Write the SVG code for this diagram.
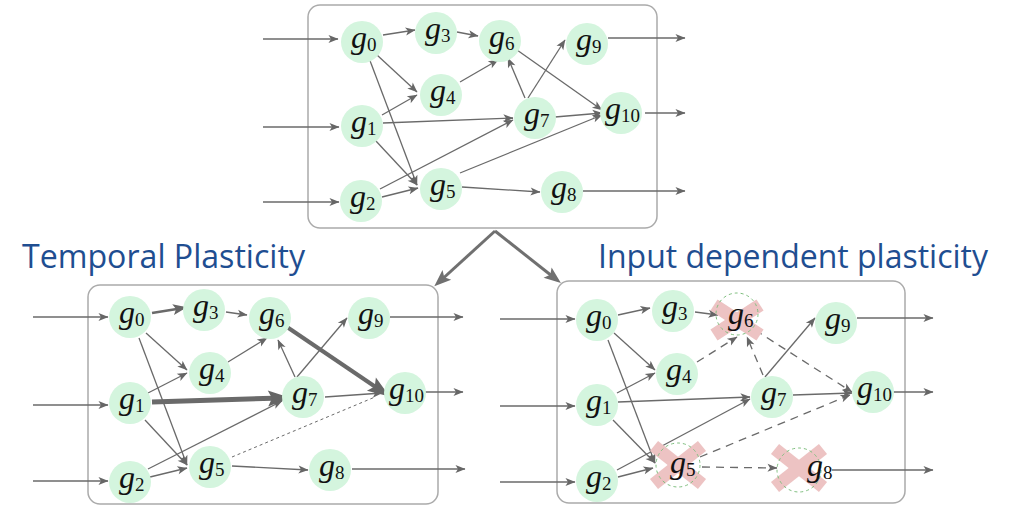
<svg xmlns="http://www.w3.org/2000/svg" width="1025" height="507" viewBox="0 0 1025 507">
<defs>
<marker id="a" markerUnits="userSpaceOnUse" markerWidth="11" markerHeight="9" refX="9.5" refY="4" orient="auto" overflow="visible"><path d="M0,0 L10,4 L0,8 L2.5,4 z" fill="#666"/></marker>
<marker id="am" markerUnits="userSpaceOnUse" markerWidth="15" markerHeight="12" refX="10" refY="5.5" orient="auto" overflow="visible"><path d="M0,0 L14,5.5 L0,11 L3,5.5 z" fill="#666"/></marker>
<marker id="al" markerUnits="userSpaceOnUse" markerWidth="23" markerHeight="17" refX="14" refY="8" orient="auto" overflow="visible"><path d="M0,0 L22,8 L0,16 L4,8 z" fill="#666"/></marker>
<marker id="ab" markerUnits="userSpaceOnUse" markerWidth="18" markerHeight="14" refX="12" refY="6.5" orient="auto" overflow="visible"><path d="M0,0 L17,6.5 L0,13 L3.5,6.5 z" fill="#707070"/></marker>
<style>
.box{fill:none;stroke:#ababab;stroke-width:1.5}
.e{fill:none;stroke:#6a6a6a;stroke-width:1.3;marker-end:url(#a)}
.d{stroke-dasharray:8 6}
.dot{fill:none;stroke:#6a6a6a;stroke-width:1;stroke-dasharray:3 3}
.n circle{fill:#d4f5de}
.x circle{fill:none;stroke:#7fbf7f;stroke-width:1;stroke-dasharray:3 3}
.x line{stroke:#edc3c3;stroke-width:13}
.lb{font-family:"Liberation Serif",serif;font-style:italic;font-size:32px;fill:#111}
.sb{font-style:normal;font-size:19px}
.title{font-family:"Open Sans","Noto Sans",sans-serif;font-size:33px;fill:#1f4e91}
.big{fill:none;stroke:#707070;stroke-width:3;marker-end:url(#ab)}
</style>
</defs>
<rect width="1025" height="507" fill="#fff"/>
<rect class="box" x="308" y="5" width="349" height="223" rx="12"/>
<rect class="box" x="88" y="285" width="350" height="219" rx="12"/>
<rect class="box" x="557" y="281" width="348" height="222" rx="12"/>
<text class="title" x="22" y="268" textLength="283" lengthAdjust="spacingAndGlyphs">Temporal Plasticity</text>
<text class="title" x="598" y="268" textLength="390" lengthAdjust="spacingAndGlyphs">Input dependent plasticity</text>
<g id="connectors">
<path class="big" d="M495,231 L438,283"/>
<path class="big" d="M495,231 L557,280"/>
<path class="e" d="M263,39 H338"/><path class="e" d="M263,127 H339"/><path class="e" d="M263,202 H339"/>
<path class="e" d="M383,35 L415,30"/><path class="e" d="M457,32 L478,36"/><path class="e" d="M377,55 L417,92"/>
<path class="e" d="M369,58 L417,185"/><path class="e" d="M382,115 L417,95"/><path class="e" d="M383,123 L513,118"/>
<path class="e" d="M375,140 L417,185"/><path class="e" d="M380,189 L513,120"/><path class="e" d="M382,197 L418,188"/>
<path class="e" d="M460,82 L498,60"/><path class="e" d="M525,98 L508,58"/><path class="e" d="M528,98 L565,40"/>
<path class="e" d="M517,50 L602,110"/><path class="e" d="M555,117 L602,113"/><path class="e" d="M460,173 L602,115"/>
<path class="e" d="M462,187 L540,192"/>
<path class="e" d="M608,38 H685"/><path class="e" d="M645,113 H685"/><path class="e" d="M583,191 H685"/>
<path class="e" d="M33,317 H108"/><path class="e" d="M33,405 H108"/><path class="e" d="M33,481 H108"/>
<path class="e" d="M152,313 L183,308" style="stroke-width:2.6;marker-end:url(#am)"/>
<path class="e" d="M226,312 L247,315"/><path class="e" d="M146,333 L187,370"/><path class="e" d="M139,338 L187,465"/>
<path class="e" d="M148,393 L187,373"/>
<path class="e" d="M152,402 L282,398" style="stroke-width:5;marker-end:url(#al)"/>
<path class="e" d="M145,420 L187,465"/><path class="e" d="M148,469 L282,401"/><path class="e" d="M150,477 L187,468"/>
<path class="e" d="M228,362 L267,338"/><path class="e" d="M295,377 L278,340"/><path class="e" d="M297,377 L347,318"/>
<path class="e" d="M287,327 L383,392" style="stroke-width:4;marker-end:url(#al)"/>
<path class="e" d="M325,397 L382,393"/>
<path class="dot" d="M232,457 L375,397"/>
<path class="e" d="M232,466 L308,470"/>
<path class="e" d="M390,317 H463"/><path class="e" d="M425,392 H463"/><path class="e" d="M352,469 H465"/>
<path class="e" d="M500,319 H575"/><path class="e" d="M500,406 H575"/><path class="e" d="M500,482 H575"/>
<path class="e" d="M618,315 L650,308"/><path class="e" d="M695,312 L718,315"/><path class="e" d="M614,333 L655,370"/>
<path class="e" d="M608,340 L655,463"/><path class="e" d="M617,393 L655,373"/><path class="e" d="M618,402 L750,397"/>
<path class="e" d="M613,420 L655,463"/><path class="e" d="M617,470 L750,399"/><path class="e" d="M618,477 L653,468"/>
<path class="e d" d="M697,362 L737,337"/><path class="e d" d="M763,375 L747,337"/><path class="e" d="M765,377 L815,318"/>
<path class="e d" d="M755,330 L852,392"/><path class="e" d="M793,395 L852,393"/><path class="e d" d="M700,457 L850,395"/>
<path class="e d" d="M702,467 L777,468"/>
<path class="e" d="M857,318 H933"/><path class="e" d="M893,392 H933"/><path class="e" d="M832,470 H933"/>
</g>
<g id="t-g0" class="n"><circle cx="362" cy="42" r="21"/><text class="lb" x="351" y="48">g<tspan class="sb" dy="3">0</tspan></text></g>
<g id="t-g1" class="n"><circle cx="362" cy="126" r="21"/><text class="lb" x="351" y="132">g<tspan class="sb" dy="3">1</tspan></text></g>
<g id="t-g2" class="n"><circle cx="361" cy="201" r="21"/><text class="lb" x="350" y="207">g<tspan class="sb" dy="3">2</tspan></text></g>
<g id="t-g3" class="n"><circle cx="436" cy="33" r="21"/><text class="lb" x="425" y="39">g<tspan class="sb" dy="3">3</tspan></text></g>
<g id="t-g4" class="n"><circle cx="441" cy="95" r="21"/><text class="lb" x="430" y="101">g<tspan class="sb" dy="3">4</tspan></text></g>
<g id="t-g5" class="n"><circle cx="441" cy="189" r="21"/><text class="lb" x="430" y="195">g<tspan class="sb" dy="3">5</tspan></text></g>
<g id="t-g6" class="n"><circle cx="500" cy="41" r="21"/><text class="lb" x="489" y="47">g<tspan class="sb" dy="3">6</tspan></text></g>
<g id="t-g7" class="n"><circle cx="535" cy="118" r="21"/><text class="lb" x="524" y="124">g<tspan class="sb" dy="3">7</tspan></text></g>
<g id="t-g8" class="n"><circle cx="562" cy="192" r="21"/><text class="lb" x="551" y="198">g<tspan class="sb" dy="3">8</tspan></text></g>
<g id="t-g9" class="n"><circle cx="587" cy="44" r="21"/><text class="lb" x="576" y="50">g<tspan class="sb" dy="3">9</tspan></text></g>
<g id="t-g10" class="n"><circle cx="621" cy="113" r="21"/><text class="lb" x="605" y="119">g<tspan class="sb" dy="3">10</tspan></text></g>
<g id="l-g0" class="n"><circle cx="130" cy="317" r="21"/><text class="lb" x="119" y="323">g<tspan class="sb" dy="3">0</tspan></text></g>
<g id="l-g1" class="n"><circle cx="130" cy="403" r="21"/><text class="lb" x="119" y="409">g<tspan class="sb" dy="3">1</tspan></text></g>
<g id="l-g2" class="n"><circle cx="130" cy="482" r="21"/><text class="lb" x="119" y="488">g<tspan class="sb" dy="3">2</tspan></text></g>
<g id="l-g3" class="n"><circle cx="204" cy="310" r="21"/><text class="lb" x="193" y="316">g<tspan class="sb" dy="3">3</tspan></text></g>
<g id="l-g4" class="n"><circle cx="210" cy="373" r="21"/><text class="lb" x="199" y="379">g<tspan class="sb" dy="3">4</tspan></text></g>
<g id="l-g5" class="n"><circle cx="210" cy="467" r="21"/><text class="lb" x="199" y="473">g<tspan class="sb" dy="3">5</tspan></text></g>
<g id="l-g6" class="n"><circle cx="270" cy="318" r="21"/><text class="lb" x="259" y="324">g<tspan class="sb" dy="3">6</tspan></text></g>
<g id="l-g7" class="n"><circle cx="303" cy="397" r="21"/><text class="lb" x="292" y="403">g<tspan class="sb" dy="3">7</tspan></text></g>
<g id="l-g8" class="n"><circle cx="330" cy="470" r="21"/><text class="lb" x="319" y="476">g<tspan class="sb" dy="3">8</tspan></text></g>
<g id="l-g9" class="n"><circle cx="369" cy="318" r="21"/><text class="lb" x="358" y="324">g<tspan class="sb" dy="3">9</tspan></text></g>
<g id="l-g10" class="n"><circle cx="405" cy="393" r="21"/><text class="lb" x="389" y="399">g<tspan class="sb" dy="3">10</tspan></text></g>
<g id="r-g0" class="n"><circle cx="597" cy="320" r="21"/><text class="lb" x="586" y="326">g<tspan class="sb" dy="3">0</tspan></text></g>
<g id="r-g1" class="n"><circle cx="597" cy="405" r="21"/><text class="lb" x="586" y="411">g<tspan class="sb" dy="3">1</tspan></text></g>
<g id="r-g2" class="n"><circle cx="597" cy="481" r="21"/><text class="lb" x="586" y="487">g<tspan class="sb" dy="3">2</tspan></text></g>
<g id="r-g3" class="n"><circle cx="673" cy="311" r="21"/><text class="lb" x="662" y="317">g<tspan class="sb" dy="3">3</tspan></text></g>
<g id="r-g4" class="n"><circle cx="677" cy="374" r="21"/><text class="lb" x="666" y="380">g<tspan class="sb" dy="3">4</tspan></text></g>
<g id="r-g5" class="x"><line x1="654" y1="446" x2="702" y2="484"/><line x1="702" y1="446" x2="654" y2="484"/><circle cx="678" cy="465" r="22"/><text class="lb" x="670" y="473">g<tspan class="sb" dy="3">5</tspan></text></g>
<g id="r-g6" class="x"><line x1="714" y1="305" x2="760" y2="335"/><line x1="760" y1="305" x2="714" y2="335"/><circle cx="737" cy="314" r="21"/><text class="lb" x="728" y="324">g<tspan class="sb" dy="3">6</tspan></text></g>
<g id="r-g7" class="n"><circle cx="772" cy="397" r="21"/><text class="lb" x="761" y="403">g<tspan class="sb" dy="3">7</tspan></text></g>
<g id="r-g8" class="x"><line x1="775" y1="449" x2="823" y2="487"/><line x1="823" y1="449" x2="775" y2="487"/><circle cx="799" cy="470" r="22"/><text class="lb" x="807" y="476">g<tspan class="sb" dy="3">8</tspan></text></g>
<g id="r-g9" class="n"><circle cx="836" cy="323" r="21"/><text class="lb" x="825" y="329">g<tspan class="sb" dy="3">9</tspan></text></g>
<g id="r-g10" class="n"><circle cx="873" cy="392" r="21"/><text class="lb" x="857" y="398">g<tspan class="sb" dy="3">10</tspan></text></g>
</svg>
